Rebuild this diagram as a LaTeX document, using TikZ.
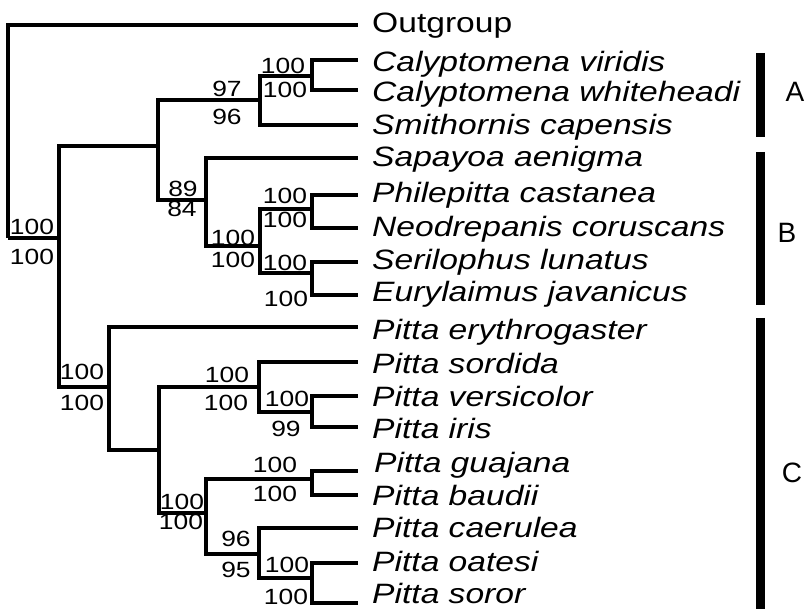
\documentclass[tikz,border=0pt]{standalone}
\usepackage{fontspec}
\setmainfont{Liberation Sans}
\newfontfamily\taxfont[FakeStretch=1.2]{Liberation Sans}
\begin{document}
\begin{tikzpicture}[x=1pt,y=-1pt,
  br/.style={line width=3.5pt, line join=miter},
  tax/.style={anchor=base west, inner sep=0pt, font=\taxfont\fontsize{28}{28}\selectfont\itshape},
  supp/.style={inner sep=0pt, font=\taxfont\fontsize{22}{22}\selectfont},
  cladebar/.style={line width=9pt},
  cladelab/.style={inner sep=0pt, font=\fontsize{28}{28}\selectfont}]
\useasboundingbox (0,0) rectangle (808,609);
% internal nodes
\coordinate (r) at (8,238);
\coordinate (nI) at (59,238);
\coordinate (nE) at (158,146);
\coordinate (nA) at (260,100);
\coordinate (nCal) at (312,76);
\coordinate (nB) at (206,200);
\coordinate (nB2) at (260,246);
\coordinate (nPhil) at (312,209);
\coordinate (nSer) at (312,273);
\coordinate (nP) at (109,387);
\coordinate (nP2) at (159,450);
\coordinate (nS) at (259,387);
\coordinate (nV) at (312,412);
\coordinate (nG2) at (206,513);
\coordinate (nG) at (312,479);
\coordinate (nC) at (259,554);
\coordinate (nO) at (312,578);
% tips
\coordinate (t1) at (358,25);
\coordinate (t2) at (358,60);
\coordinate (t3) at (358,90);
\coordinate (t4) at (358,125);
\coordinate (t5) at (358,158);
\coordinate (t6) at (358,195);
\coordinate (t7) at (358,228);
\coordinate (t8) at (358,262);
\coordinate (t9) at (358,295);
\coordinate (t10) at (358,327);
\coordinate (t11) at (358,362);
\coordinate (t12) at (358,396);
\coordinate (t13) at (358,427);
\coordinate (t14) at (358,471);
\coordinate (t15) at (358,495);
\coordinate (t16) at (358,528);
\coordinate (t17) at (358,563);
\coordinate (t18) at (358,603);
% branches
\draw[br] (r) |- (t1);
\draw[br] (r) -- (nI);
\draw[br] (nI) |- (nE);
\draw[br] (nI) |- (nP);
\draw[br] (nE) |- (nA);
\draw[br] (nE) |- (nB);
\draw[br] (nA) |- (nCal);
\draw[br] (nA) |- (t4);
\draw[br] (nCal) |- (t2);
\draw[br] (nCal) |- (t3);
\draw[br] (nB) |- (t5);
\draw[br] (nB) |- (nB2);
\draw[br] (nB2) |- (nPhil);
\draw[br] (nB2) |- (nSer);
\draw[br] (nPhil) |- (t6);
\draw[br] (nPhil) |- (t7);
\draw[br] (nSer) |- (t8);
\draw[br] (nSer) |- (t9);
\draw[br] (nP) |- (t10);
\draw[br] (nP) |- (nP2);
\draw[br] (nP2) |- (nS);
\draw[br] (nP2) |- (nG2);
\draw[br] (nS) |- (t11);
\draw[br] (nS) |- (nV);
\draw[br] (nV) |- (t12);
\draw[br] (nV) |- (t13);
\draw[br] (nG2) |- (nG);
\draw[br] (nG2) |- (nC);
\draw[br] (nG) |- (t14);
\draw[br] (nG) |- (t15);
\draw[br] (nC) |- (t16);
\draw[br] (nC) |- (nO);
\draw[br] (nO) |- (t17);
\draw[br] (nO) |- (t18);
% taxon labels
\node[tax, font=\taxfont\fontsize{28}{28}\selectfont] (L1) at (372,33) {Outgroup};
\node[tax] (L2) at (372,72) {Calyptomena viridis};
\node[tax] (L3) at (372,102) {Calyptomena whiteheadi};
\node[tax] (L4) at (372,135) {Smithornis capensis};
\node[tax] (L5) at (372,167) {Sapayoa aenigma};
\node[tax] (L6) at (372,203) {Philepitta castanea};
\node[tax] (L7) at (372,237) {Neodrepanis coruscans};
\node[tax] (L8) at (372,270) {Serilophus lunatus};
\node[tax] (L9) at (372,302) {Eurylaimus javanicus};
\node[tax] (L10) at (372,340) {Pitta erythrogaster};
\node[tax] (L11) at (372,373) {Pitta sordida};
\node[tax] (L12) at (372,406) {Pitta versicolor};
\node[tax] (L13) at (372,438) {Pitta iris};
\node[tax] (L14) at (374,472) {Pitta guajana};
\node[tax] (L15) at (372,505) {Pitta baudii};
\node[tax] (L16) at (372,537) {Pitta caerulea};
\node[tax] (L17) at (372,571) {Pitta oatesi};
\node[tax] (L18) at (372,603) {Pitta soror};
% support values
\node[supp] (s1a) at (32,227) {100};
\node[supp] (s1b) at (32,257) {100};
\node[supp] (s2a) at (82,372) {100};
\node[supp] (s2b) at (82,403) {100};
\node[supp] (s3a) at (227,89) {97};
\node[supp] (s3b) at (227,117) {96};
\node[supp] (s4a) at (283,66) {100};
\node[supp] (s4b) at (285,90) {100};
\node[supp] (s5a) at (183,189) {89};
\node[supp] (s5b) at (182,209) {84};
\node[supp] (s6a) at (233,238) {100};
\node[supp] (s6b) at (233,260) {100};
\node[supp] (s7a) at (285,196) {100};
\node[supp] (s7b) at (285,220) {100};
\node[supp] (s8a) at (285,263) {100};
\node[supp] (s8b) at (286,299) {100};
\node[supp] (s9a) at (227,375) {100};
\node[supp] (s9b) at (226,403) {100};
\node[supp] (s10a) at (287,399) {100};
\node[supp] (s10b) at (286,429) {99};
\node[supp] (s11a) at (182,502) {100};
\node[supp] (s11b) at (181,522) {100};
\node[supp] (s12a) at (275,465) {100};
\node[supp] (s12b) at (275,494) {100};
\node[supp] (s13a) at (236,539) {96};
\node[supp] (s13b) at (236,570) {95};
\node[supp] (s14a) at (287,565) {100};
\node[supp] (s14b) at (286,597) {100};
% clade bars
\coordinate (bA1) at (760,53);
\coordinate (bA2) at (760,137);
\coordinate (bB1) at (760,152);
\coordinate (bB2) at (760,305);
\coordinate (bC1) at (760,318);
\coordinate (bC2) at (760,612);
\draw[cladebar] (bA1) -- (bA2);
\draw[cladebar] (bB1) -- (bB2);
\draw[cladebar] (bC1) -- (bC2);
\node[cladelab] (cA) at (795,92) {A};
\node[cladelab] (cB) at (787,233) {B};
\node[cladelab] (cC) at (792,473) {C};
\end{tikzpicture}
\end{document}
